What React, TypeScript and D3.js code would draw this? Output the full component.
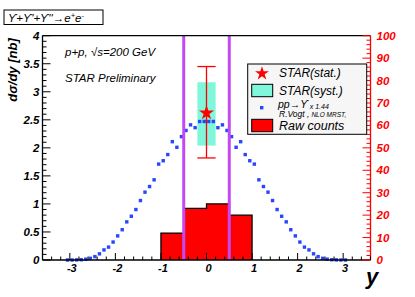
import React from 'react';
import * as d3 from 'd3';

// theory curve (pp -> Upsilon x 1.44, R. Vogt NLO MRST), dsigma/dy in nb
const curveX = [
  -3.05, -2.95, -2.85, -2.75, -2.65, -2.55, -2.45, -2.35, -2.25, -2.15, -2.05,
  -1.95, -1.85, -1.75, -1.65, -1.55, -1.45, -1.35, -1.25, -1.15, -1.05,
  -0.95, -0.85, -0.75, -0.65, -0.55, -0.45, -0.35, -0.25, -0.15, -0.05,
  0.05, 0.15, 0.25, 0.35, 0.45, 0.55, 0.65, 0.75, 0.85, 0.95,
  1.05, 1.15, 1.25, 1.35, 1.45, 1.55, 1.65, 1.75, 1.85, 1.95,
  2.05, 2.15, 2.25, 2.35, 2.45, 2.55, 2.65, 2.75, 2.85, 2.95, 3.05,
];
const curveY = [
  0, 0, 0.002, 0.005, 0.015, 0.03, 0.06, 0.11, 0.18, 0.23, 0.32,
  0.43, 0.54, 0.68, 0.78, 0.9, 1.06, 1.21, 1.31, 1.43, 1.71,
  1.77, 1.88, 2.11, 2.01, 2.2, 2.31, 2.41, 2.36, 2.47, 2.47,
  2.47, 2.47, 2.36, 2.41, 2.31, 2.2, 2.01, 2.11, 1.88, 1.77,
  1.71, 1.43, 1.31, 1.21, 1.06, 0.9, 0.78, 0.68, 0.54, 0.43,
  0.32, 0.23, 0.18, 0.11, 0.06, 0.03, 0.015, 0.005, 0.002, 0, 0,
];

// raw counts histogram (right axis)
const binEdges = [-1, -0.5, 0, 0.5, 1];
const rawCounts = [12, 23, 25, 20];

// STAR measurement
const starY = [0];
const starVal = [2.64];
const statLow = [1.82];
const statHigh = [3.45];
const systLow = [2.04];
const systHigh = [3.17];
const systHalfWidth = 0.2;

// acceptance lines
const cutLines = [-0.5, 0.5];

const xTickLabels = [-3, -2, -1, 0, 1, 2, 3];
const leftTickLabels = [0, 0.5, 1, 1.5, 2, 2.5, 3, 3.5, 4];
const rightTickLabels = [0, 10, 20, 30, 40, 50, 60, 70, 80, 90, 100];

const W = 415;
const H = 297;
const L = 42.5, R = 370.5, T = 35.7, B = 260;
const FONT = "'Liberation Sans', Arial, sans-serif";

export default function App() {
  const x = d3.scaleLinear().domain([-3.6, 3.6]).range([L, R]);
  const y = d3.scaleLinear().domain([0, 4]).range([B, T]);
  const yr = d3.scaleLinear().domain([0, 100]).range([B, T]);

  const xMinor = x.ticks(36);
  const yMinor = y.ticks(40);
  const rMinor = yr.ticks(50);

  // histogram outline
  let histPath = `M${x(binEdges[0])},${yr(0)}`;
  rawCounts.forEach((c, i) => {
    histPath += `L${x(binEdges[i])},${yr(c)}L${x(binEdges[i + 1])},${yr(c)}`;
  });
  histPath += `L${x(binEdges[binEdges.length - 1])},${yr(0)}`;

  const star = d3.symbol().type(d3.symbolStar).size(70)();
  const starSmall = d3.symbol().type(d3.symbolStar).size(60)();

  const lbl = { fontFamily: FONT, fontStyle: 'italic', fontWeight: 'bold' as const };

  return (
    <svg width={W} height={H} style={{ position: 'absolute', left: 0, top: 0, background: '#fff' }}>
      {/* title box */}
      <rect x={4} y={10} width={99} height={14.5} fill="#fff" stroke="#000" strokeWidth={1} />
      <text x={8} y={21.5} fontFamily={FONT} fontStyle="italic" fontSize={11.5}>
        ϒ+ϒ'+ϒ''→e<tspan dy={-4} fontSize={7.5}>+</tspan><tspan dy={4}>e</tspan><tspan dy={-4} fontSize={7.5}>-</tspan>
      </text>

      {/* raw counts histogram */}
      <path d={histPath + 'Z'} fill="#ff0000" stroke="none" />
      <path d={histPath} fill="none" stroke="#000" strokeWidth={1.3} />

      {/* syst box */}
      {starY.map((v, i) => (
        <rect key={'s' + i} x={x(v - systHalfWidth)} y={y(systHigh[i])}
          width={x(v + systHalfWidth) - x(v - systHalfWidth)} height={y(systLow[i]) - y(systHigh[i])}
          fill="#80f6da" />
      ))}

      {/* theory points */}
      {curveX.map((v, i) => (
        <rect key={'c' + i} x={x(v) - 1.7} y={y(curveY[i]) - 1.7} width={3.4} height={3.4} fill="#2646ff" />
      ))}

      {/* stat error + star */}
      {starY.map((v, i) => (
        <g key={'e' + i} stroke="#ff0000" strokeWidth={1.3}>
          <line x1={x(v)} x2={x(v)} y1={y(statLow[i])} y2={y(statHigh[i])} />
          <line x1={x(v - systHalfWidth)} x2={x(v + systHalfWidth)} y1={y(statLow[i])} y2={y(statLow[i])} />
          <line x1={x(v - systHalfWidth)} x2={x(v + systHalfWidth)} y1={y(statHigh[i])} y2={y(statHigh[i])} />
          <path d={star} transform={`translate(${x(v)},${y(starVal[i]) + 1})`} fill="#ff0000" stroke="none" />
        </g>
      ))}

      {/* acceptance lines */}
      {cutLines.map((v, i) => (
        <line key={'l' + i} x1={x(v)} x2={x(v)} y1={T} y2={B} stroke="#c449f2" strokeWidth={3} />
      ))}

      {/* frame */}
      <line x1={L} x2={R} y1={T} y2={T} stroke="#000" strokeWidth={1.3} />
      <line x1={L} x2={R} y1={B} y2={B} stroke="#000" strokeWidth={1.3} />
      <line x1={L} x2={L} y1={T} y2={B} stroke="#000" strokeWidth={1.3} />
      <line x1={R} x2={R} y1={T} y2={B} stroke="#ff0000" strokeWidth={1.3} />

      {/* x ticks */}
      {xMinor.map((v, i) => {
        const major = Math.abs(v - Math.round(v)) < 1e-6;
        return <line key={'xt' + i} x1={x(v)} x2={x(v)} y1={B} y2={B - (major ? 7 : 3.5)} stroke="#000" strokeWidth={1} />;
      })}
      {xTickLabels.map((v) => (
        <text key={'xl' + v} x={x(v) + 2} y={B + 12} textAnchor="middle" fontSize={11} {...lbl}>{v}</text>
      ))}

      {/* left ticks */}
      {yMinor.map((v, i) => {
        const major = Math.abs(v * 2 - Math.round(v * 2)) < 1e-6;
        return <line key={'yt' + i} x1={L} x2={L + (major ? 8 : 4)} y1={y(v)} y2={y(v)} stroke="#000" strokeWidth={1} />;
      })}
      {leftTickLabels.map((v) => (
        <text key={'yl' + v} x={L - 3} y={y(v) + 4} textAnchor="end" fontSize={11.5} {...lbl}>{v}</text>
      ))}

      {/* right ticks */}
      {rMinor.map((v, i) => {
        const major = v % 10 === 0;
        return <line key={'rt' + i} x1={R} x2={R - (major ? 8 : 4)} y1={yr(v)} y2={yr(v)} stroke="#ff0000" strokeWidth={1} />;
      })}
      {rightTickLabels.map((v) => (
        <text key={'rl' + v} x={R + 6} y={yr(v) + 4} fontSize={11.5} fill="#ff0000" {...lbl}>{v}</text>
      ))}

      {/* axis titles */}
      <text transform="translate(17,70) rotate(-90)" textAnchor="middle" fontSize={13} {...lbl}>dσ/dy [nb]</text>
      <text x={372} y={284} textAnchor="middle" fontSize={22} {...lbl}>y</text>

      {/* annotations */}
      <text x={65} y={56} fontFamily={FONT} fontStyle="italic" fontSize={11.5}>p+p, √s=200 GeV</text>
      <text x={65} y={82} fontFamily={FONT} fontStyle="italic" fontSize={11.5}>STAR Preliminary</text>

      {/* legend */}
      <rect x={247.7} y={64} width={119} height={70.3} fill="#f6f6f6" stroke="#000" strokeWidth={1} />
      <path d={starSmall} transform="translate(262,73.5)" fill="#ff0000" />
      <text x={279} y={76.5} fontFamily={FONT} fontStyle="italic" fontSize={12}>STAR(stat.)</text>
      <rect x={251.7} y={84.3} width={21} height={12.4} fill="#80f6da" stroke="#000" strokeWidth={1} />
      <text x={279} y={94.5} fontFamily={FONT} fontStyle="italic" fontSize={12}>STAR(syst.)</text>
      <rect x={260} y={106} width={3.4} height={3.4} fill="#2646ff" />
      <text x={278} y={108} fontFamily={FONT} fontStyle="italic" fontSize={10.5}>
        pp→ϒ<tspan dx={2} dy={1} fontSize={7}>x 1.44</tspan>
      </text>
      <text x={279} y={117} fontFamily={FONT} fontStyle="italic" fontSize={8.5}>
        R.Vogt ,<tspan dx={2} fontSize={6.5}>NLO MRST,</tspan>
      </text>
      <rect x={251.7} y={119.3} width={21} height={12.4} fill="#ff0000" stroke="#000" strokeWidth={1} />
      <text x={279} y={130} fontFamily={FONT} fontStyle="italic" fontSize={12.5}>Raw counts</text>
    </svg>
  );
}
